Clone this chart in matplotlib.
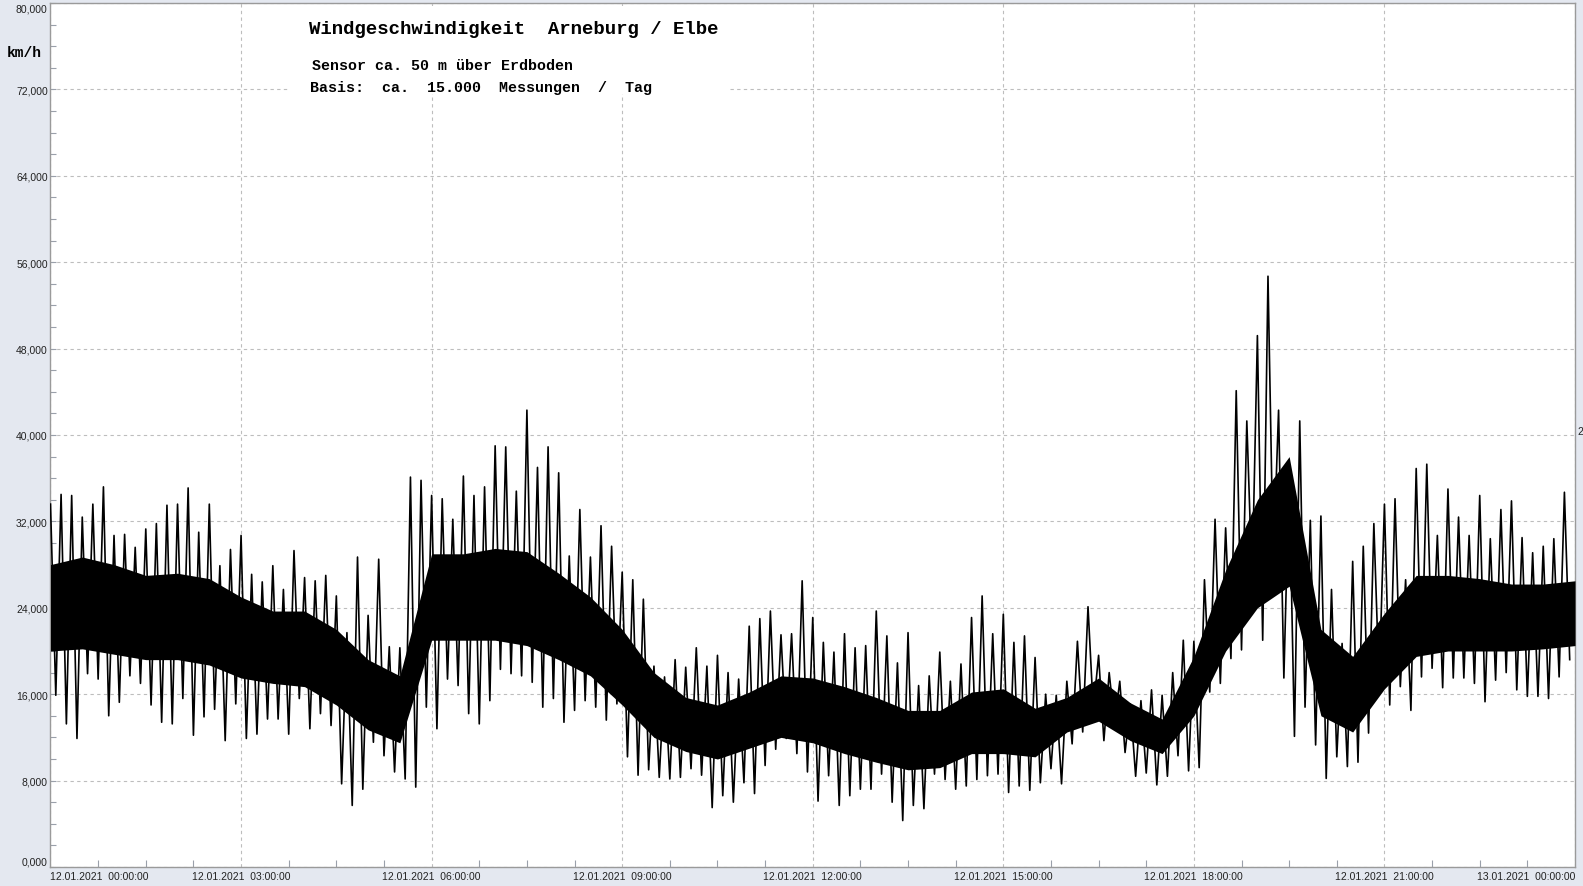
"""Windgeschwindigkeit Arneburg / Elbe, 12.01.2021 - Tagesverlauf."""
import numpy as np
import matplotlib
matplotlib.use("Agg")
import matplotlib.pyplot as plt
from matplotlib.patches import Rectangle
from matplotlib.ticker import FixedLocator

# 10-minute bins over the day: upper and lower extreme of the measurements (km/h)
bin_minutes = np.arange(0, 1440, 10)
spike_hi = [
    33600, 34500, 34400, 32400, 33600, 35200, 30700, 30800, 29600, 31300, 31800, 33500,
    33600, 35100, 31000, 33600, 27900, 29400, 30700, 27100, 26400, 27900, 25700, 29300,
    26800, 26500, 27000, 25100, 21700, 28700, 23300, 28500, 20400, 20300, 36100, 35800,
    34400, 34100, 32200, 36200, 34400, 35200, 39000, 38900, 34800, 42300, 37000, 38900,
    36500, 28800, 33100, 28700, 31600, 29700, 27300, 26600, 24800, 18600, 17600, 19200,
    18500, 20300, 18600, 19600, 18000, 17400, 22300, 23000, 23700, 21500, 21600, 26500,
    23100, 20800, 19900, 21600, 20300, 20500, 23700, 21400, 18900, 21700, 16800, 17700,
    19900, 17200, 18800, 23100, 25100, 21600, 23400, 20800, 21400, 19400, 16000, 15900,
    17200, 20900, 24100, 19600, 18000, 17200, 15100, 15400, 16400, 15900, 18000, 21000,
    20900, 26600, 32200, 31400, 44100, 41300, 49200, 54700, 42300, 36400, 41300, 32100,
    32500, 25700, 20700, 28300, 29700, 31800, 33600, 34100, 26600, 36900, 37300, 30700,
    35000, 32400, 30700, 34400, 30400, 33100, 33900, 30500, 29100, 29700, 30400, 34700,
]
spike_lo = [
    15900, 13250, 11900, 17900, 17400, 14000, 15250, 17700, 17000, 15000, 13400, 13250,
    15600, 12200, 13900, 14600, 11700, 15100, 11900, 12300, 13700, 13700, 12300, 15600,
    12800, 14200, 13100, 7700, 5700, 7200, 11550, 10300, 8800, 8150, 7400, 14800,
    12800, 17400, 16800, 14200, 13250, 15400, 18300, 17900, 17700, 17100, 14800, 15600,
    13400, 14500, 15400, 14800, 13600, 15100, 10200, 8500, 9000, 8300, 8150, 8300,
    9100, 8500, 5500, 6600, 6000, 7800, 6800, 9400, 10900, 11900, 10500, 8800,
    6100, 8450, 5700, 6600, 7200, 7200, 8600, 6000, 4300, 5700, 5400, 8600,
    8100, 7200, 7500, 8100, 8450, 8600, 6900, 7500, 7100, 7800, 9100, 7700,
    11400, 12500, 14500, 11700, 13300, 10600, 8400, 8700, 7600, 8400, 10300, 8900,
    9200, 16200, 17000, 19300, 20100, 26300, 21000, 27900, 17500, 12100, 14800, 11300,
    8200, 10200, 9300, 9700, 12400, 16900, 15000, 16700, 14500, 17600, 18400, 16600,
    17500, 17500, 17000, 15300, 17300, 18000, 16400, 15800, 15800, 15600, 17600, 19200,
]

# dense core of the signal, read at every half hour from 00:00 to 24:00
core_minutes = np.arange(0, 1441, 30)
core_lo = [20000, 20200, 19700, 19200, 19200, 18700, 17500, 17000, 16700, 15000, 12700, 11500,
           21000, 21000, 21000, 20500, 19200, 17700, 15000, 12000, 10700, 10000, 11000, 12000,
           11500, 10500, 9700, 9000, 9200, 10500, 10500, 10200, 12500, 13500, 11700, 10500,
           14000, 20000, 24000, 26000, 14000, 12500, 16500, 19500, 20000, 20000, 20000, 20200,
           20500]
core_hi = [28000, 28700, 28000, 27000, 27200, 26700, 25000, 23700, 23700, 22000, 19200, 17700,
           29000, 29000, 29500, 29200, 27200, 25000, 22000, 18000, 15700, 15000, 16200, 17700,
           17500, 16700, 15700, 14500, 14500, 16200, 16500, 14700, 15700, 17500, 15200, 13700,
           19500, 27500, 34000, 38000, 22000, 19500, 23500, 27000, 27000, 26700, 26200, 26200,
           26500]

x_ticks_h = [0, 3, 6, 9, 12, 15, 18, 21, 24]
x_labels = ["12.01.2021  00:00:00", "12.01.2021  03:00:00", "12.01.2021  06:00:00",
            "12.01.2021  09:00:00", "12.01.2021  12:00:00", "12.01.2021  15:00:00",
            "12.01.2021  18:00:00", "12.01.2021  21:00:00", "13.01.2021  00:00:00"]
y_ticks = [0, 8000, 16000, 24000, 32000, 40000, 48000, 56000, 64000, 72000, 80000]
y_labels = ["0,000", "8,000", "16,000", "24,000", "32,000", "40,000", "48,000",
            "56,000", "64,000", "72,000", "80,000"]

BG = "#E4E8F0"
W, H = 1583, 887

fig = plt.figure(figsize=(W / 100, H / 100), dpi=100, facecolor=BG)
ax = fig.add_axes([50.5 / W, (H - 868) / H, (1575 - 50.5) / W, (868 - 4) / H])
ax.set_facecolor("white")

# zigzag through the extremes of each bin
t_hi = bin_minutes / 60.0
t_lo = (bin_minutes + 5) / 60.0
xs = np.empty(2 * len(t_hi))
ys = np.empty(2 * len(t_hi))
xs[0::2], xs[1::2] = t_hi, t_lo
ys[0::2], ys[1::2] = spike_hi, spike_lo
ax.fill_between(core_minutes / 60.0, core_lo, core_hi, color="black", lw=0, zorder=3)
ax.plot(xs, ys, color="black", lw=1.2, zorder=4)

ax.set_xlim(0, 24)
ax.set_ylim(0, 80000)

ax.set_yticks(y_ticks)
ax.set_yticklabels(y_labels, fontsize=7.5, family="Liberation Sans", color="#222222")
ax.yaxis.set_minor_locator(FixedLocator(np.arange(0, 80001, 2000)))
ax.tick_params(axis="y", which="both", direction="in", length=4, width=0.8,
               color="#9AA0AA", pad=2)
yl = ax.get_yticklabels()
yl[0].set_va("bottom")
yl[-1].set_va("top")

ax.set_xticks(x_ticks_h)
ax.set_xticklabels(x_labels, fontsize=7.5, family="Liberation Sans", color="#222222")
minor_h = [h + f for h in range(0, 24, 3) for f in (0.75, 1.5, 2.25)]
ax.xaxis.set_minor_locator(FixedLocator(minor_h))
ax.tick_params(axis="x", which="major", length=0, pad=3)
ax.tick_params(axis="x", which="minor", direction="in", length=5, width=0.8,
               color="#9AA0AA")
xl = ax.get_xticklabels()
xl[0].set_ha("left")
xl[-1].set_ha("right")

ax.grid(True, which="major", color="#BDBDBD", linestyle=(0, (3, 3)), lw=0.8, zorder=1)
for s in ax.spines.values():
    s.set_color("#9A9A9A")
    s.set_linewidth(1.0)

# white box behind the header text
ax.add_patch(Rectangle((290 / W, (H - 95) / H), (728 - 290) / W, (95 - 7) / H,
                       transform=fig.transFigure, facecolor="white", edgecolor="none",
                       zorder=2))

mono = "Liberation Mono"
fig.text(309 / W, 1 - 29 / H, "Windgeschwindigkeit  Arneburg / Elbe", family=mono,
         weight="bold", fontsize=13.7, va="center", ha="left")
fig.text(312 / W, 1 - 65.5 / H, "Sensor ca. 50 m über Erdboden", family=mono,
         weight="bold", fontsize=10.8, va="center", ha="left")
fig.text(310 / W, 1 - 88 / H, "Basis:  ca.  15.000  Messungen  /  Tag", family=mono,
         weight="bold", fontsize=10.8, va="center", ha="left")
fig.text(7 / W, 1 - 53 / H, "km/h", family=mono, weight="bold", fontsize=10.5,
         va="center", ha="left")
fig.text(1577 / W, 1 - 432 / H, "2", family="Liberation Sans", fontsize=7.5,
         va="center", ha="left", color="#222222")

fig.savefig("out.png", dpi=100, facecolor=BG)
